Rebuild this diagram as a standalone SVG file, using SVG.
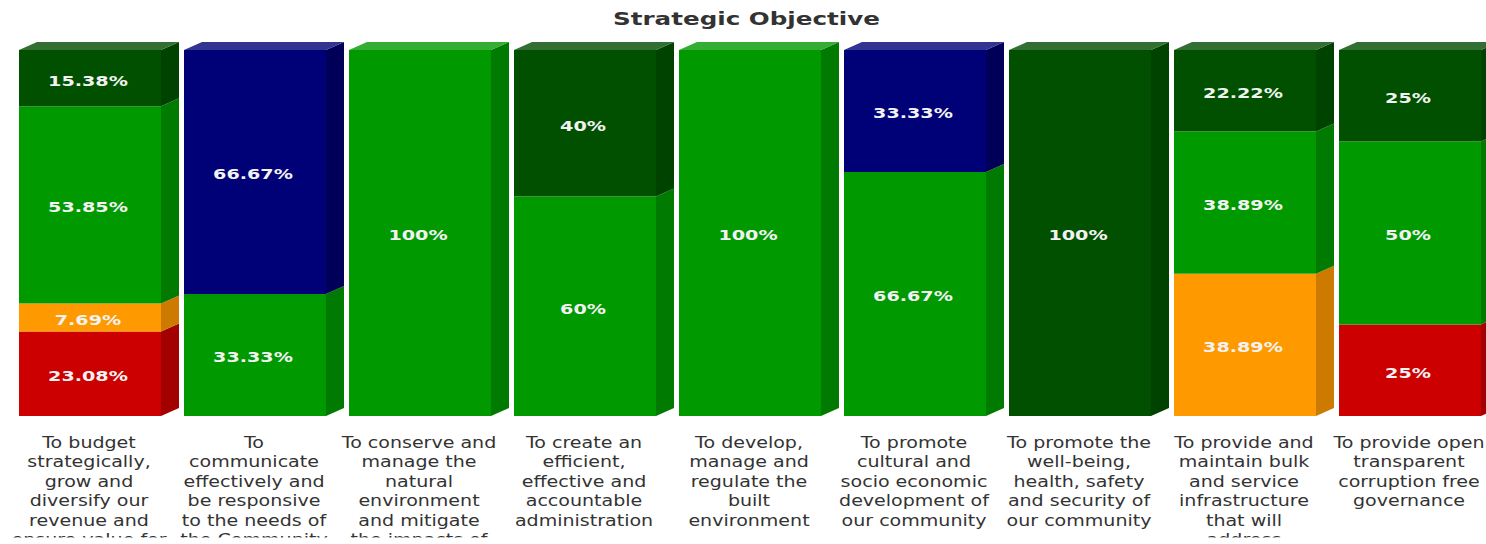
<svg xmlns="http://www.w3.org/2000/svg" width="1486" height="544" viewBox="0 0 1486 544">
<style>
.dg{fill:#005000}.dgs{fill:#004200}.dgt{fill:#336f33}
.g{fill:#009900}.gs{fill:#007a00}.gt{fill:#33ad33}
.b{fill:#000077}.bs{fill:#000058}.bt{fill:#333392}
.o{fill:#ff9900}.os{fill:#cc7a00}
.r{fill:#cc0000}.rs{fill:#a30000}
.pct{font-family:"DejaVu Sans",Verdana,sans-serif;font-weight:bold;font-size:14px;fill:#f2f2f2;text-anchor:middle}
.cat{font-family:"DejaVu Sans",Verdana,sans-serif;font-size:15px;fill:#333333;text-anchor:middle}
.title{font-family:"DejaVu Sans",Verdana,sans-serif;font-weight:bold;font-size:17px;fill:#333333;text-anchor:middle}
</style>
<defs>
<clipPath id="clip"><rect x="0" y="0" width="1486" height="537.5"/></clipPath>
</defs>
<rect width="1486" height="544" fill="#ffffff"/>
<text class="title" x="746.5" y="25" textLength="267" lengthAdjust="spacingAndGlyphs">Strategic Objective</text>

<g id="bar1">
<rect class="r" x="19" y="331.5" width="142" height="84.5"/><polygon class="rs" points="161,416 179,408 179,323.5 161,331.5"/>
<rect class="o" x="19" y="303.4" width="142" height="28.1"/><polygon class="os" points="161,331.5 179,323.5 179,295.4 161,303.4"/>
<rect class="g" x="19" y="106.3" width="142" height="197.1"/><polygon class="gs" points="161,303.4 179,295.4 179,98.3 161,106.3"/>
<rect class="dg" x="19" y="50" width="142" height="56.3"/><polygon class="dgs" points="161,106.3 179,98.3 179,42 161,50"/>
<polygon class="dgt" points="19,50 37,42 179,42 161,50"/>
<text class="pct" transform="translate(88,381) scale(1.37,1)">23.08%</text>
<text class="pct" transform="translate(88,324.5) scale(1.37,1)">7.69%</text>
<text class="pct" transform="translate(88,212) scale(1.37,1)">53.85%</text>
<text class="pct" transform="translate(88,86) scale(1.37,1)">15.38%</text>
</g>

<g id="bar2">
<rect class="g" x="184" y="294" width="142" height="122"/><polygon class="gs" points="326,416 344,408 344,286 326,294"/>
<rect class="b" x="184" y="50" width="142" height="244"/><polygon class="bs" points="326,294 344,286 344,42 326,50"/>
<polygon class="bt" points="184,50 202,42 344,42 326,50"/>
<text class="pct" transform="translate(253,362.2) scale(1.37,1)">33.33%</text>
<text class="pct" transform="translate(253,179.2) scale(1.37,1)">66.67%</text>
</g>

<g id="bar3">
<rect class="g" x="349" y="50" width="142" height="366"/><polygon class="gs" points="491,416 509,408 509,42 491,50"/>
<polygon class="gt" points="349,50 367,42 509,42 491,50"/>
<text class="pct" transform="translate(418,240.2) scale(1.37,1)">100%</text>
</g>

<g id="bar4">
<rect class="g" x="514" y="196.4" width="142" height="219.6"/><polygon class="gs" points="656,416 674,408 674,188.4 656,196.4"/>
<rect class="dg" x="514" y="50" width="142" height="146.4"/><polygon class="dgs" points="656,196.4 674,188.4 674,42 656,50"/>
<polygon class="dgt" points="514,50 532,42 674,42 656,50"/>
<text class="pct" transform="translate(583,313.5) scale(1.37,1)">60%</text>
<text class="pct" transform="translate(583,130.5) scale(1.37,1)">40%</text>
</g>

<g id="bar5">
<rect class="g" x="679" y="50" width="142" height="366"/><polygon class="gs" points="821,416 839,408 839,42 821,50"/>
<polygon class="gt" points="679,50 697,42 839,42 821,50"/>
<text class="pct" transform="translate(748,240.2) scale(1.37,1)">100%</text>
</g>

<g id="bar6">
<rect class="g" x="844" y="172" width="142" height="244"/><polygon class="gs" points="986,416 1004,408 1004,164 986,172"/>
<rect class="b" x="844" y="50" width="142" height="122"/><polygon class="bs" points="986,172 1004,164 1004,42 986,50"/>
<polygon class="bt" points="844,50 862,42 1004,42 986,50"/>
<text class="pct" transform="translate(913,301.2) scale(1.37,1)">66.67%</text>
<text class="pct" transform="translate(913,118.2) scale(1.37,1)">33.33%</text>
</g>

<g id="bar7">
<rect class="dg" x="1009" y="50" width="142" height="366"/><polygon class="dgs" points="1151,416 1169,408 1169,42 1151,50"/>
<polygon class="dgt" points="1009,50 1027,42 1169,42 1151,50"/>
<text class="pct" transform="translate(1078,240.2) scale(1.37,1)">100%</text>
</g>

<g id="bar8">
<rect class="o" x="1174" y="273.7" width="142" height="142.3"/><polygon class="os" points="1316,416 1334,408 1334,265.7 1316,273.7"/>
<rect class="g" x="1174" y="131.4" width="142" height="142.3"/><polygon class="gs" points="1316,273.7 1334,265.7 1334,123.4 1316,131.4"/>
<rect class="dg" x="1174" y="50" width="142" height="81.4"/><polygon class="dgs" points="1316,131.4 1334,123.4 1334,42 1316,50"/>
<polygon class="dgt" points="1174,50 1192,42 1334,42 1316,50"/>
<text class="pct" transform="translate(1243,352) scale(1.37,1)">38.89%</text>
<text class="pct" transform="translate(1243,209.7) scale(1.37,1)">38.89%</text>
<text class="pct" transform="translate(1243,97.9) scale(1.37,1)">22.22%</text>
</g>

<g id="bar9">
<rect class="r" x="1339" y="324.5" width="142" height="91.5"/><polygon class="rs" points="1481,416 1499,408 1499,316.5 1481,324.5"/>
<rect class="g" x="1339" y="141.5" width="142" height="183"/><polygon class="gs" points="1481,324.5 1499,316.5 1499,133.5 1481,141.5"/>
<rect class="dg" x="1339" y="50" width="142" height="91.5"/><polygon class="dgs" points="1481,141.5 1499,133.5 1499,42 1481,50"/>
<polygon class="dgt" points="1339,50 1357,42 1499,42 1481,50"/>
<text class="pct" transform="translate(1408,377.5) scale(1.37,1)">25%</text>
<text class="pct" transform="translate(1408,240.2) scale(1.37,1)">50%</text>
<text class="pct" transform="translate(1408,103) scale(1.37,1)">25%</text>
</g>

<g id="labels" clip-path="url(#clip)">
<text class="cat" transform="translate(89,0) scale(1.27,1)"><tspan x="0" y="448">To budget</tspan><tspan x="0" y="467.5">strategically,</tspan><tspan x="0" y="487">grow and</tspan><tspan x="0" y="506.5">diversify our</tspan><tspan x="0" y="526">revenue and</tspan><tspan x="0" y="545.5">ensure value for</tspan></text>
<text class="cat" transform="translate(254,0) scale(1.27,1)"><tspan x="0" y="448">To</tspan><tspan x="0" y="467.5">communicate</tspan><tspan x="0" y="487">effectively and</tspan><tspan x="0" y="506.5">be responsive</tspan><tspan x="0" y="526">to the needs of</tspan><tspan x="0" y="545.5">the Community</tspan></text>
<text class="cat" transform="translate(419,0) scale(1.27,1)"><tspan x="0" y="448">To conserve and</tspan><tspan x="0" y="467.5">manage the</tspan><tspan x="0" y="487">natural</tspan><tspan x="0" y="506.5">environment</tspan><tspan x="0" y="526">and mitigate</tspan><tspan x="0" y="545.5">the impacts of</tspan></text>
<text class="cat" transform="translate(584,0) scale(1.27,1)"><tspan x="0" y="448">To create an</tspan><tspan x="0" y="467.5">efficient,</tspan><tspan x="0" y="487">effective and</tspan><tspan x="0" y="506.5">accountable</tspan><tspan x="0" y="526">administration</tspan></text>
<text class="cat" transform="translate(749,0) scale(1.27,1)"><tspan x="0" y="448">To develop,</tspan><tspan x="0" y="467.5">manage and</tspan><tspan x="0" y="487">regulate the</tspan><tspan x="0" y="506.5">built</tspan><tspan x="0" y="526">environment</tspan></text>
<text class="cat" transform="translate(914,0) scale(1.27,1)"><tspan x="0" y="448">To promote</tspan><tspan x="0" y="467.5">cultural and</tspan><tspan x="0" y="487">socio economic</tspan><tspan x="0" y="506.5">development of</tspan><tspan x="0" y="526">our community</tspan></text>
<text class="cat" transform="translate(1079,0) scale(1.27,1)"><tspan x="0" y="448">To promote the</tspan><tspan x="0" y="467.5">well-being,</tspan><tspan x="0" y="487">health, safety</tspan><tspan x="0" y="506.5">and security of</tspan><tspan x="0" y="526">our community</tspan></text>
<text class="cat" transform="translate(1244,0) scale(1.27,1)"><tspan x="0" y="448">To provide and</tspan><tspan x="0" y="467.5">maintain bulk</tspan><tspan x="0" y="487">and service</tspan><tspan x="0" y="506.5">infrastructure</tspan><tspan x="0" y="526">that will</tspan><tspan x="0" y="545.5">address</tspan></text>
<text class="cat" transform="translate(1409,0) scale(1.27,1)"><tspan x="0" y="448">To provide open</tspan><tspan x="0" y="467.5">transparent</tspan><tspan x="0" y="487">corruption free</tspan><tspan x="0" y="506.5">governance</tspan></text>
</g>
</svg>
